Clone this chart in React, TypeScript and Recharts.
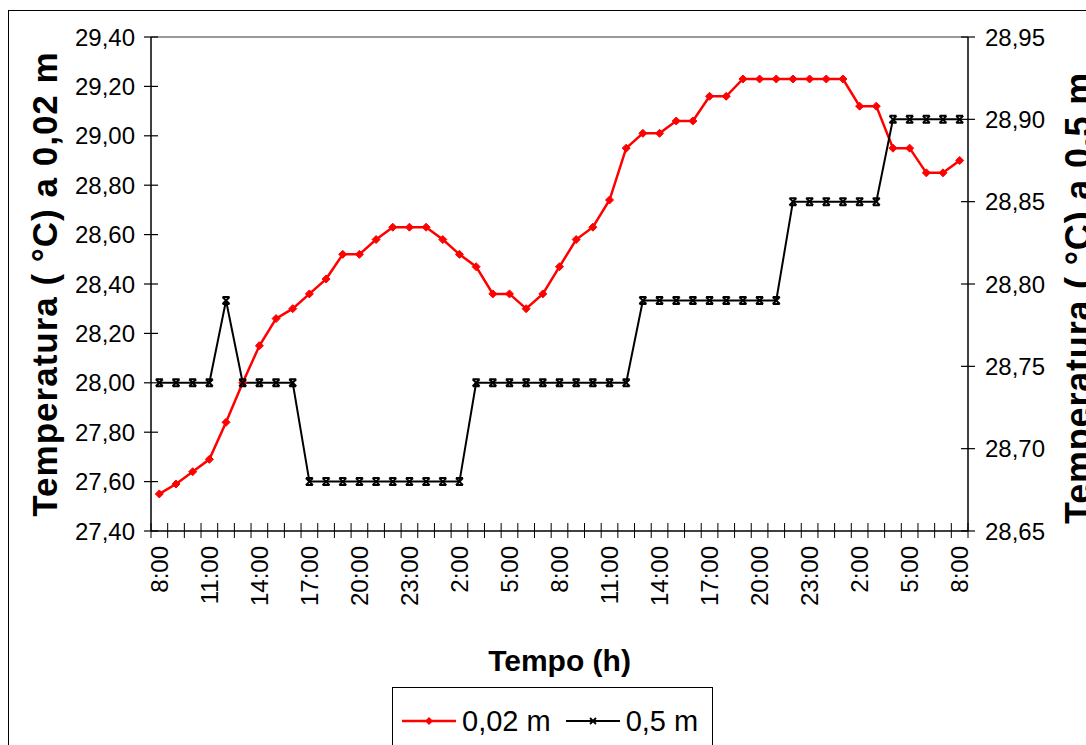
import { LineChart, Line, XAxis, YAxis, ReferenceLine, Label } from 'recharts';

// hourly readings, 8:00 day 1 to 8:00 day 3
const HOUR_LABELS = [
  '8:00', '11:00', '14:00', '17:00', '20:00', '23:00', '2:00', '5:00',
  '8:00', '11:00', '14:00', '17:00', '20:00', '23:00', '2:00', '5:00', '8:00',
];

// temperature at 0,02 m (left axis)
const SHALLOW = [
  27.55, 27.59, 27.64, 27.69, 27.84, 28.0, 28.15, 28.26, 28.3, 28.36,
  28.42, 28.52, 28.52, 28.58, 28.63, 28.63, 28.63, 28.58, 28.52, 28.47,
  28.36, 28.36, 28.3, 28.36, 28.47, 28.58, 28.63, 28.74, 28.95, 29.01,
  29.01, 29.06, 29.06, 29.16, 29.16, 29.23, 29.23, 29.23, 29.23, 29.23,
  29.23, 29.23, 29.12, 29.12, 28.95, 28.95, 28.85, 28.85, 28.9,
];

// temperature at 0,5 m (right axis)
const DEEP = [
  28.74, 28.74, 28.74, 28.74, 28.79, 28.74, 28.74, 28.74, 28.74, 28.68,
  28.68, 28.68, 28.68, 28.68, 28.68, 28.68, 28.68, 28.68, 28.68, 28.74,
  28.74, 28.74, 28.74, 28.74, 28.74, 28.74, 28.74, 28.74, 28.74, 28.79,
  28.79, 28.79, 28.79, 28.79, 28.79, 28.79, 28.79, 28.79, 28.85, 28.85,
  28.85, 28.85, 28.85, 28.85, 28.9, 28.9, 28.9, 28.9, 28.9,
];

const LEFT_TICKS = [27.4, 27.6, 27.8, 28.0, 28.2, 28.4, 28.6, 28.8, 29.0, 29.2, 29.4];
const RIGHT_TICKS = [28.65, 28.7, 28.75, 28.8, 28.85, 28.9, 28.95];

const W = 1086;
const H = 745;
const PLOT_LEFT = 151;
const PLOT_RIGHT = 968;
const PLOT_TOP = 37;
const PLOT_BOTTOM = 531;
const FONT = '"Liberation Sans", Arial, sans-serif';

const data = SHALLOW.map((v, i) => ({ t: i, shallow: v, deep: DEEP[i] }));

// tick marks sit between hours, labels every third hour
const xTicks: number[] = [];
for (let i = 0; i <= SHALLOW.length; i++) {
  xTicks.push(i - 0.5);
  if (i % 3 === 0 && i < SHALLOW.length) xTicks.push(i);
}

const fmt = (v: number) => v.toFixed(2).replace('.', ',');

// eslint-disable-next-line @typescript-eslint/no-explicit-any
const LeftTick = ({ y, payload }: any) => (
  <g>
    <line x1={PLOT_LEFT - 7} x2={PLOT_LEFT + 7} y1={y} y2={y} stroke="#000" strokeWidth={1.2} />
    <text x={PLOT_LEFT - 16} y={y} textAnchor="end" dominantBaseline="central"
      fontFamily={FONT} fontSize={24} fill="#000">{fmt(payload.value)}</text>
  </g>
);

// eslint-disable-next-line @typescript-eslint/no-explicit-any
const RightTick = ({ y, payload }: any) => (
  <g>
    <line x1={PLOT_RIGHT - 7} x2={PLOT_RIGHT + 7} y1={y} y2={y} stroke="#000" strokeWidth={1.2} />
    <text x={PLOT_RIGHT + 17} y={y} textAnchor="start" dominantBaseline="central"
      fontFamily={FONT} fontSize={24} fill="#000">{fmt(payload.value)}</text>
  </g>
);

// eslint-disable-next-line @typescript-eslint/no-explicit-any
const HourTick = ({ x, payload }: any) => {
  const v = payload.value as number;
  if (!Number.isInteger(v)) {
    return <line x1={x} x2={x} y1={PLOT_BOTTOM - 8} y2={PLOT_BOTTOM + 7} stroke="#000" strokeWidth={1} />;
  }
  return (
    <text x={0} y={0} transform={`translate(${x}, ${PLOT_BOTTOM + 15}) rotate(-90)`}
      textAnchor="end" dominantBaseline="central" fontFamily={FONT} fontSize={24} fill="#000">
      {HOUR_LABELS[v / 3]}
    </text>
  );
};

// eslint-disable-next-line @typescript-eslint/no-explicit-any
const Diamond = ({ cx, cy, index }: any) => (
  <polygon key={`s${index}`} points={`${cx},${cy - 4} ${cx + 4},${cy} ${cx},${cy + 4} ${cx - 4},${cy}`}
    fill="#ff0000" stroke="#ff0000" strokeWidth={1} />
);

// eslint-disable-next-line @typescript-eslint/no-explicit-any
const Cross = ({ cx, cy, index }: any) => (
  <path key={`d${index}`}
    d={`M${cx - 3.5},${cy - 3.5}L${cx + 3.5},${cy + 3.5}M${cx + 3.5},${cy - 3.5}L${cx - 3.5},${cy + 3.5}M${cx - 3.5},${cy - 3.5}h7M${cx - 3.5},${cy + 3.5}h7`}
    stroke="#000" strokeWidth={2} fill="none" />
);

const titleStyle = { fontFamily: FONT, fontWeight: 700, fill: '#000' };

export default function App() {
  return (
    <div style={{ position: 'fixed', left: 0, top: 0, width: W, height: H, overflow: 'hidden', background: '#fff' }}>
      {/* chart area frame */}
      <div style={{ position: 'absolute', left: 8, top: 10, width: 1200, height: 900, borderLeft: '1px solid #000', borderTop: '1px solid #000' }} />
      <LineChart width={W} height={H} data={data} margin={{ top: PLOT_TOP, right: 0, bottom: 0, left: 0 }}
        style={{ position: 'absolute', left: 0, top: 0 }}>
        <XAxis type="number" dataKey="t" domain={[-0.5, SHALLOW.length - 0.5]} ticks={xTicks} interval={0}
          tick={<HourTick />} tickLine={false} axisLine={{ stroke: '#000', strokeWidth: 1.5 }} height={H - PLOT_BOTTOM}>
          <Label content={() => (
            <text x={(PLOT_LEFT + PLOT_RIGHT) / 2} y={671} textAnchor="middle" fontSize={30} {...titleStyle}>Tempo (h)</text>
          )} />
        </XAxis>
        <YAxis yAxisId="left" domain={[27.4, 29.4]} ticks={LEFT_TICKS} interval={0} width={PLOT_LEFT}
          tick={<LeftTick />} tickLine={false} axisLine={{ stroke: '#000', strokeWidth: 1.5 }}>
          <Label content={() => (
            <text x={0} y={0} transform={`translate(57, ${(PLOT_TOP + PLOT_BOTTOM) / 2}) rotate(-90)`}
              textAnchor="middle" fontSize={35} letterSpacing={1} {...titleStyle}>Temperatura ( °C) a 0,02 m</text>
          )} />
        </YAxis>
        <YAxis yAxisId="right" orientation="right" domain={[28.65, 28.95]} ticks={RIGHT_TICKS} interval={0}
          width={W - PLOT_RIGHT} tick={<RightTick />} tickLine={false} axisLine={{ stroke: '#000', strokeWidth: 1.5 }}>
          <Label content={() => (
            <text x={0} y={0} transform={`translate(1091, ${(PLOT_TOP + PLOT_BOTTOM) / 2 + 14}) rotate(-90)`}
              textAnchor="middle" fontSize={36} letterSpacing={0.8} {...titleStyle}>Temperatura ( °C) a 0,5 m</text>
          )} />
        </YAxis>
        <ReferenceLine yAxisId="left" y={29.4} stroke="#777" strokeWidth={1.5} />
        <Line yAxisId="left" type="linear" dataKey="shallow" stroke="#ff0000" strokeWidth={2.5}
          dot={Diamond} activeDot={false} isAnimationActive={false} />
        <Line yAxisId="right" type="linear" dataKey="deep" stroke="#000" strokeWidth={2}
          dot={Cross} activeDot={false} isAnimationActive={false} />
      </LineChart>

      {/* legend */}
      <div style={{
        position: 'absolute', left: 392, top: 687, width: 319, height: 66, border: '1px solid #000',
        background: '#fff', display: 'flex', alignItems: 'center', fontFamily: FONT, fontSize: 29, color: '#000',
      }}>
        <svg width={54} height={12} style={{ marginLeft: 9 }}>
          <line x1={0} x2={54} y1={6} y2={6} stroke="#ff0000" strokeWidth={2.5} />
          <polygon points="27,2 31,6 27,10 23,6" fill="#ff0000" />
        </svg>
        <span style={{ marginLeft: 6 }}>0,02 m</span>
        <svg width={54} height={12} style={{ marginLeft: 15 }}>
          <line x1={0} x2={54} y1={6} y2={6} stroke="#000" strokeWidth={2} />
          <path d="M24,3L30,9M30,3L24,9" stroke="#000" strokeWidth={1.8} />
        </svg>
        <span style={{ marginLeft: 6 }}>0,5 m</span>
      </div>
    </div>
  );
}
